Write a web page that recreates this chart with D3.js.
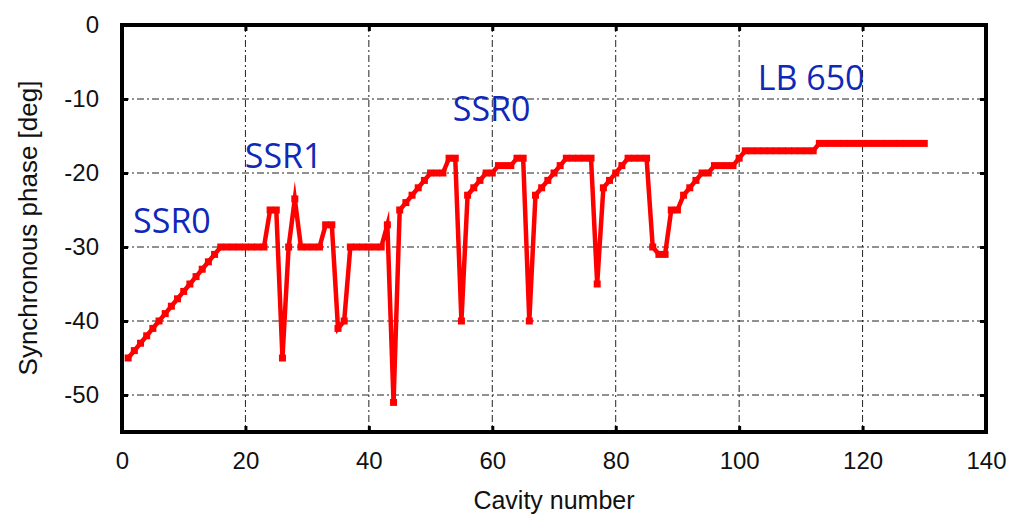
<!DOCTYPE html>
<html>
<head>
<meta charset="utf-8">
<script src="https://cdn.jsdelivr.net/npm/d3@7"></script>
<style>
  body { margin: 0; background: #fff; }
  svg { display: block; }
</style>
</head>
<body>
<div id="container"></div>
<script>
// Synchronous phase per cavity (cavity numbers start at 1)
const firstCavity = 1;
const phase = [
  -45, -44, -43, -42, -41, -40, -39, -38, -37, -36, -35, -34, -33, -32, -31,
  -30, -30, -30, -30, -30, -30, -30, -30,
  -25, -25, -45, -30, -23.5, -30, -30, -30, -30, -27, -27, -41, -40,
  -30, -30, -30, -30, -30, -30, -27, -51,
  -25, -24, -23, -22, -21, -20, -20, -20, -18, -18, -40,
  -23, -22, -21, -20, -20, -19, -19, -19, -18, -18, -40,
  -23, -22, -21, -20, -19, -18, -18, -18, -18, -18, -35,
  -22, -21, -20, -19, -18, -18, -18, -18, -30, -31, -31, -25, -25,
  -23, -22, -21, -20, -20, -19, -19, -19, -19, -18,
  -17, -17, -17, -17, -17, -17, -17, -17, -17, -17, -17, -17,
  -16, -16, -16, -16, -16, -16, -16, -16, -16, -16, -16, -16, -16, -16, -16, -16, -16, -16
];
const xTicks = [0, 20, 40, 60, 80, 100, 120, 140];
const yTicks = [0, -10, -20, -30, -40, -50];
const sections = ["SSR0", "SSR1", "SSR0", "LB 650"];
const sectionX = [1.8, 19.9, 53.6, 103];
const sectionY = [-28.1, -19.3, -13, -8.8];

// Layout
let chart_width = 1029;
let chart_height = 519;
let m_left = 122, m_right = 986, m_top = 25, m_bottom = 432;

let data = phase.map((p, i) => ({ cav: firstCavity + i, phase: p }));

let x = d3.scaleLinear().domain([0, 140]).range([m_left, m_right]);
let y = d3.scaleLinear().domain([-55, 0]).range([m_bottom, m_top]);

let svg = d3.select("#container")
  .append("svg")
  .attr("width", chart_width)
  .attr("height", chart_height);

// Grid lines (dash-dot)
let grid = svg.append("g").attr("class", "grid");
grid.selectAll("line.vx")
  .data(xTicks.filter(d => d > 0 && d < 140))
  .enter().append("line")
  .attr("x1", d => x(d)).attr("x2", d => x(d))
  .attr("y1", m_top).attr("y2", m_bottom)
  .attr("stroke", "#222").attr("stroke-width", 1)
  .attr("stroke-dasharray", "7,3,2,3");
grid.selectAll("line.hy")
  .data(yTicks.filter(d => d < 0))
  .enter().append("line")
  .attr("x1", m_left).attr("x2", m_right)
  .attr("y1", d => y(d)).attr("y2", d => y(d))
  .attr("stroke", "#222").attr("stroke-width", 1)
  .attr("stroke-dasharray", "7,3,2,3");

// Axes with inward ticks on all four sides
let tickStyle = g => {
  g.select(".domain").remove();
  g.selectAll(".tick line").attr("stroke", "#000").attr("stroke-width", 3);
  g.selectAll(".tick text")
    .attr("font-family", "'Liberation Sans', Arial, sans-serif")
    .attr("font-size", "24px")
    .attr("fill", "#111");
};

svg.append("g")
  .attr("transform", "translate(0," + m_bottom + ")")
  .call(d3.axisBottom(x).tickValues(xTicks).tickSize(-6).tickPadding(20).tickFormat(d => String(d)))
  .call(tickStyle);
svg.append("g")
  .attr("transform", "translate(0," + m_top + ")")
  .call(d3.axisTop(x).tickValues(xTicks).tickSize(-6).tickFormat(""))
  .call(tickStyle);
svg.append("g")
  .attr("transform", "translate(" + m_left + ",0)")
  .call(d3.axisLeft(y).tickValues(yTicks).tickSize(-6).tickPadding(23).tickFormat(d => String(d)))
  .call(tickStyle);
svg.append("g")
  .attr("transform", "translate(" + m_right + ",0)")
  .call(d3.axisRight(y).tickValues(yTicks).tickSize(-6).tickFormat(""))
  .call(tickStyle);

// Frame
svg.append("rect")
  .attr("x", m_left).attr("y", m_top)
  .attr("width", m_right - m_left).attr("height", m_bottom - m_top)
  .attr("fill", "none").attr("stroke", "#000").attr("stroke-width", 4);

// Phase line
let line = d3.line().x(d => x(d.cav)).y(d => y(d.phase));
svg.append("path")
  .datum(data)
  .attr("d", line)
  .attr("fill", "none")
  .attr("stroke", "#ff0000")
  .attr("stroke-width", 4.5)
  .attr("stroke-linejoin", "miter")
  .attr("stroke-miterlimit", 10);

svg.append("g")
  .selectAll("rect")
  .data(data)
  .enter().append("rect")
  .attr("x", d => x(d.cav) - 3.5)
  .attr("y", d => y(d.phase) - 3.5)
  .attr("width", 7).attr("height", 7)
  .attr("fill", "#ff0000");

// Section labels
svg.append("g")
  .selectAll("text")
  .data(sections)
  .enter().append("text")
  .attr("x", (d, i) => x(sectionX[i]))
  .attr("y", (d, i) => y(sectionY[i]))
  .attr("font-family", "'Open Sans', sans-serif")
  .attr("font-size", "34px")
  .attr("fill", "#1028b8")
  .text(d => d);

// Axis titles
svg.append("text")
  .attr("x", (m_left + m_right) / 2)
  .attr("y", 509)
  .attr("text-anchor", "middle")
  .attr("font-family", "'Liberation Sans', Arial, sans-serif")
  .attr("font-size", "25px")
  .attr("fill", "#111")
  .text("Cavity number");

svg.append("text")
  .attr("transform", "translate(37," + 228 + ") rotate(-90)")
  .attr("text-anchor", "middle")
  .attr("font-family", "'Liberation Sans', Arial, sans-serif")
  .attr("font-size", "26px")
  .attr("fill", "#111")
  .text("Synchronous phase [deg]");
</script>
</body>
</html>
